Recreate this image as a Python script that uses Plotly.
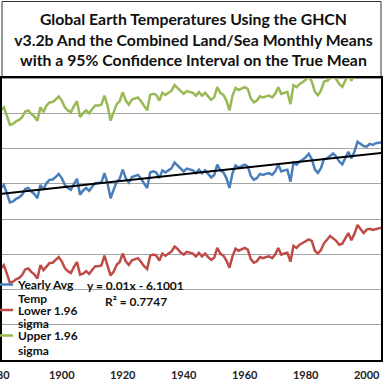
import numpy as np
import plotly.graph_objects as go

years = list(range(1880, 2006))

yearly_avg = [
    12.88, 12.97, 12.73, 12.47, 12.50, 12.57, 12.61, 12.69, 12.85, 12.88,
    12.78, 12.71, 12.59, 12.97, 12.83, 13.02, 13.11, 13.12, 13.19, 13.28,
    13.16, 12.97, 12.88, 12.83, 13.00, 13.14, 12.69, 12.81, 12.88, 12.80,
    12.92, 13.02, 13.02, 13.04, 13.30, 13.02, 12.59, 12.83, 13.06, 13.14,
    13.40, 13.16, 13.04, 13.19, 13.23, 13.25, 13.14, 13.00, 12.88, 13.32,
    13.35, 13.32, 13.16, 13.38, 13.32, 13.38, 13.44, 13.60, 13.51, 13.41,
    13.35, 13.43, 13.41, 13.38, 13.30, 13.40, 13.30, 13.38, 13.28, 13.18,
    13.25, 13.54, 13.38, 13.32, 13.16, 12.88, 13.30, 13.52, 13.46, 13.49,
    13.54, 13.49, 13.22, 13.11, 13.16, 13.28, 13.25, 13.28, 13.30, 13.25,
    13.35, 13.54, 13.35, 13.38, 13.40, 13.06, 13.60, 13.54, 13.63, 13.68,
    13.75, 13.85, 13.70, 13.41, 13.31, 13.44, 13.70, 13.72, 13.79, 13.86,
    13.77, 13.63, 13.55, 13.72, 13.91, 13.72, 13.91, 14.19, 14.13, 14.07,
    14.05, 14.13, 14.10, 14.15, 14.16, 14.18,
]

lower_ci = [
    10.60, 10.69, 10.45, 10.19, 10.22, 10.29, 10.33, 10.41, 10.57, 10.60,
    10.50, 10.43, 10.31, 10.69, 10.55, 10.66, 10.75, 10.76, 10.83, 10.92,
    10.80, 10.61, 10.52, 10.47, 10.64, 10.78, 10.42, 10.45, 10.52, 10.44,
    10.56, 10.66, 10.66, 10.68, 10.96, 10.66, 10.40, 10.50, 10.70, 10.78,
    11.02, 10.80, 10.70, 10.83, 10.87, 10.89, 10.78, 10.66, 10.58, 10.96,
    10.99, 10.96, 10.82, 11.02, 10.96, 11.02, 11.08, 11.22, 11.15, 11.05,
    10.99, 11.07, 11.05, 11.02, 10.94, 11.04, 10.94, 11.02, 10.92, 10.84,
    10.90, 11.18, 11.02, 10.96, 10.82, 10.62, 10.94, 11.16, 11.10, 11.13,
    11.18, 11.13, 10.86, 10.76, 10.80, 10.92, 10.89, 10.92, 10.94, 10.89,
    10.99, 11.18, 10.99, 11.02, 11.04, 10.79, 11.24, 11.18, 11.27, 11.32,
    11.38, 11.42, 11.38, 11.10, 11.02, 11.12, 11.31, 11.40, 11.52, 11.45,
    11.38, 11.27, 11.30, 11.45, 11.60, 11.40, 11.58, 11.83, 11.72, 11.60,
    11.70, 11.72, 11.69, 11.72, 11.74, 11.76,
]

upper_ci = [
    15.08, 15.17, 14.93, 14.67, 14.70, 14.77, 14.81, 14.89, 15.05, 15.08,
    14.98, 14.91, 14.79, 15.17, 15.03, 15.22, 15.31, 15.32, 15.39, 15.48,
    15.36, 15.17, 15.08, 15.03, 15.20, 15.34, 14.89, 15.01, 15.08, 15.00,
    15.12, 15.22, 15.22, 15.24, 15.50, 15.22, 14.79, 15.03, 15.26, 15.34,
    15.60, 15.36, 15.24, 15.39, 15.43, 15.45, 15.34, 15.20, 15.08, 15.52,
    15.55, 15.52, 15.36, 15.58, 15.52, 15.58, 15.64, 15.80, 15.71, 15.61,
    15.55, 15.63, 15.61, 15.58, 15.50, 15.60, 15.50, 15.58, 15.48, 15.38,
    15.45, 15.74, 15.58, 15.52, 15.36, 15.08, 15.50, 15.72, 15.66, 15.69,
    15.74, 15.69, 15.42, 15.31, 15.36, 15.48, 15.45, 15.48, 15.50, 15.45,
    15.55, 15.74, 15.55, 15.58, 15.60, 15.26, 15.80, 15.74, 15.83, 15.88,
    15.95, 16.05, 15.90, 15.61, 15.51, 15.64, 15.90, 15.92, 15.99, 16.06,
    15.97, 15.83, 15.75, 15.92, 16.11, 15.92, 16.11, 16.39, 16.33, 16.27,
    16.25, 16.33, 16.30, 16.35, 16.36, 16.38,
]

x_ticks = [1880, 1900, 1920, 1940, 1960, 1980, 2000]
first_tick_label = "1880"
title_lines = [
    "Global Earth Temperatures Using the GHCN",
    "v3.2b And the Combined Land/Sea Monthly Means",
    "with a 95% Confidence Interval on the True Mean",
]
series_names = ["Yearly Avg", "Lower 1.96", "Upper 1.96"]
series_name_second_lines = ["Temp", "sigma", "sigma"]
trend_label = "y = 0.01x - 6.1001"
r2_label = "R² = 0.7747"

slope, intercept = np.polyfit(years, yearly_avg, 1)
trend = [slope * yr + intercept for yr in years]

FONT = "Lato"
TXT = "#111111"

# plot-area geometry (pixels)
W, H = 383, 384
ML, MR, MT, MB = 2, 2, 78, 24
PW, PH = W - ML - MR, H - MT - MB


def px_x(p):
    return (p - ML) / PW


def px_y(p):
    return (H - MB - p) / PH


fig = go.Figure()
fig.add_trace(go.Scatter(x=years, y=yearly_avg, mode="lines", name=series_names[0],
                         legendgroup="a", line=dict(color="#4A7EBB", width=2.5)))
fig.add_trace(go.Scatter(x=years, y=lower_ci, mode="lines", name=series_names[1],
                         legendgroup="b", line=dict(color="#BE4B48", width=2.5)))
fig.add_trace(go.Scatter(x=years, y=upper_ci, mode="lines", name=series_names[2],
                         legendgroup="c", line=dict(color="#98B954", width=2.5)))
fig.add_trace(go.Scatter(x=years, y=trend, mode="lines", showlegend=False,
                         line=dict(color="#000000", width=2)))

second_line_y = [298, 323.5, 350]
annotations = [
    dict(text=trend_label, xref="paper", yref="paper", x=px_x(135.5), y=px_y(285),
         showarrow=False, xanchor="center", yanchor="middle",
         font=dict(family=FONT, size=12, color=TXT, weight="bold")),
    dict(text=r2_label, xref="paper", yref="paper", x=px_x(135.5), y=px_y(301),
         showarrow=False, xanchor="center", yanchor="middle",
         font=dict(family=FONT, size=12, color=TXT, weight="bold")),
    dict(text=first_tick_label, xref="paper", yref="paper", x=px_x(-3.5), y=px_y(374),
         showarrow=False, xanchor="center", yanchor="middle",
         font=dict(family=FONT, size=11, color="#222222", weight="bold")),
]
for txt, yp in zip(series_name_second_lines, second_line_y):
    annotations.append(dict(text=txt, xref="paper", yref="paper", x=px_x(16), y=px_y(yp),
                            showarrow=False, xanchor="left", yanchor="middle",
                            font=dict(family=FONT, size=12, color=TXT, weight="bold")))

fig.update_layout(
    width=W, height=H,
    margin=dict(l=ML, r=MR, t=MT, b=MB, autoexpand=False),
    paper_bgcolor="white", plot_bgcolor="white",
    title=dict(text="<br>".join(title_lines), x=0.505, xanchor="center",
               xref="container", yref="container", y=1 - 25 / H, yanchor="middle",
               automargin=False,
               font=dict(family=FONT, size=15.8, color=TXT, weight="bold")),
    xaxis=dict(range=[1880.4, 2004.7], tickvals=x_ticks, tickformat="d",
               showgrid=False, showline=True, linecolor="#000000", linewidth=1.5,
               mirror=True, ticks="", zeroline=False, ticklabelstandoff=4,
               tickfont=dict(family=FONT, size=11, color="#222222", weight="bold")),
    yaxis=dict(range=[8, 16], tick0=8, dtick=1, showticklabels=False,
               showgrid=True, gridcolor="#A6A6A6", gridwidth=1,
               showline=True, linecolor="#000000", linewidth=1.5, mirror=True,
               zeroline=False, ticks=""),
    legend=dict(x=px_x(-22), y=px_y(270), xanchor="left", yanchor="top",
                bgcolor="rgba(0,0,0,0)", borderwidth=0, valign="middle",
                tracegroupgap=6.5, itemwidth=30,
                font=dict(family=FONT, size=12, color=TXT, weight="bold")),
    showlegend=True,
    shapes=[dict(type="rect", xref="paper", yref="paper", x0=0, x1=1,
                 y0=1, y1=px_y(1.5), line=dict(color="#333333", width=1),
                 layer="below")],
    annotations=annotations,
)

fig.write_html("out.html",
               config={"displayModeBar": False},
               post_script="document.body.style.margin='0';document.body.style.overflow='hidden';")
